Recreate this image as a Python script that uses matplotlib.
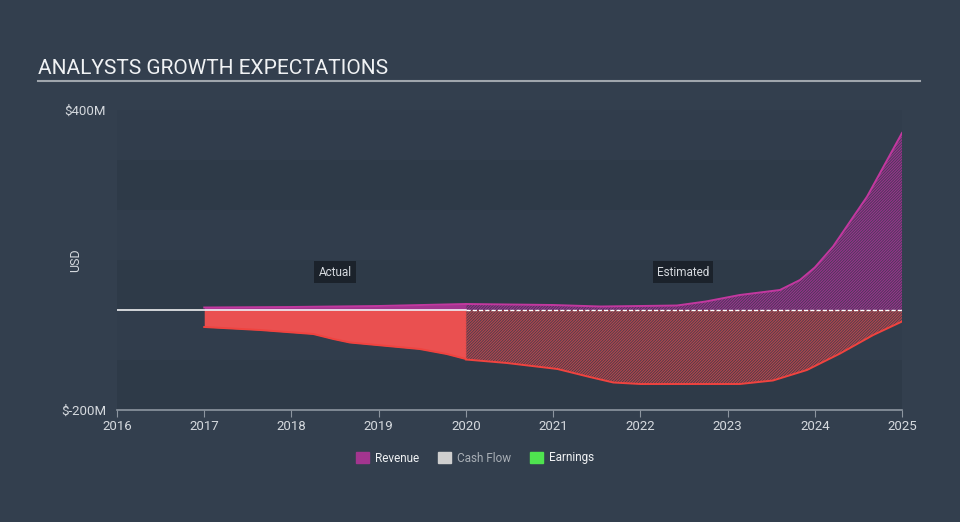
import matplotlib

matplotlib.use("Agg")

import matplotlib.pyplot as plt
from matplotlib.lines import Line2D
from matplotlib.patches import Patch

plt.rcParams["font.family"] = ["Roboto", "DejaVu Sans"]
plt.rcParams["hatch.linewidth"] = 0.8

# values (USD millions)
rev_actual_years = [2017.0, 2018.0, 2019.0, 2019.5, 2020.0]
rev_actual = [5, 6, 8, 10, 12]
rev_est_years = [2020.0, 2020.5, 2021.0, 2021.54, 2022.0, 2022.42, 2022.75,
                 2023.14, 2023.6, 2023.83, 2024.0, 2024.21, 2024.6, 2025.0]
rev_est = [12, 11, 10, 7, 8, 9, 17, 30, 40, 60, 85, 127, 227, 354]

cf_actual_years = [2017.0, 2017.64, 2018.25, 2018.48, 2018.67, 2019.47, 2019.78, 2020.0]
cf_actual = [-34, -40, -48, -58, -65, -78, -88, -98]
cf_est_years = [2020.0, 2020.47, 2021.05, 2021.42, 2021.69, 2022.0, 2023.14,
                2023.52, 2023.91, 2024.29, 2024.67, 2025.0]
cf_est = [-99, -106, -118, -134, -145, -148, -148, -141, -120, -87, -50, -23]

year_ticks = list(range(2016, 2026))
y_ticks = [-200, 400]
y_tick_labels = ["$-200M", "$400M"]

BG = "#333f4e"
BAND = "#2e3a48"
REV_LINE = "#c2389f"
REV_FILL = "#a3358f"
CF_LINE = "#f0433f"
CF_FILL = "#ea5050"
TXT = "#d5d9de"

fig = plt.figure(figsize=(9.6, 5.22), dpi=100, facecolor=BG)
ax = fig.add_axes([117 / 960, 1 - 410 / 522, (902 - 117) / 960, 300 / 522])
ax.set_facecolor("#313d4c")
ax.set_xlim(2016, 2025.0)
ax.set_ylim(-200, 400)

# alternating horizontal bands
for lo in (-200, 0, 200):
    ax.axhspan(lo, lo + 100, color=BAND, lw=0, zorder=0)

# revenue
ax.fill_between(rev_actual_years, 0, rev_actual, color=REV_FILL, lw=0, zorder=2)
ax.plot(rev_actual_years, rev_actual, color=REV_LINE, lw=1.4, zorder=3)
ax.fill_between(rev_est_years, 0, rev_est, facecolor=(0.64, 0.21, 0.56, 0.2),
                edgecolor="#9a338c", hatch="/" * 12, lw=0, zorder=2)
ax.plot(rev_est_years, rev_est, color=REV_LINE, lw=1.4, zorder=3)

# cash flow
ax.fill_between(cf_actual_years, 0, cf_actual, color=CF_FILL, lw=0, zorder=2)
ax.plot(cf_actual_years, cf_actual, color=CF_LINE, lw=1.4, zorder=3)
ax.fill_between(cf_est_years, 0, cf_est, facecolor=(0.92, 0.31, 0.31, 0.12),
                edgecolor="#b8454c", hatch="/" * 12, lw=0, zorder=2)
ax.plot(cf_est_years, cf_est, color=CF_LINE, lw=1.4, zorder=3)

# zero line: solid for actuals, dashed for estimates
ax.plot([2016, 2020], [0, 0], color="white", lw=1.1, zorder=4)
ax.plot([2020, 2025], [0, 0], color="white", lw=1.0, ls=(0, (3, 1.5)), zorder=4)

box = dict(boxstyle="square,pad=0.35", facecolor="#1b222b", edgecolor="none")
ax.text(2018.5, 76, "Actual", color=TXT, fontsize=8.5, ha="center", va="center", bbox=box, zorder=5)
ax.text(2022.49, 76, "Estimated", color=TXT, fontsize=8.5, ha="center", va="center", bbox=box, zorder=5)

for side in ("top", "right", "left"):
    ax.spines[side].set_visible(False)
ax.spines["bottom"].set_color("#8d96a0")
ax.spines["bottom"].set_linewidth(1.2)
ax.set_xticks(year_ticks)
ax.set_xticklabels([str(y) for y in year_ticks])
ax.set_yticks(y_ticks)
ax.set_yticklabels(y_tick_labels)
ax.tick_params(axis="x", colors="#8d96a0", labelcolor=TXT, labelsize=9.5, length=5, pad=2)
ax.tick_params(axis="y", length=0, labelcolor=TXT, labelsize=9.5, pad=8)
ax.set_ylabel("USD", color=TXT, fontsize=9)
ax.yaxis.set_label_coords((82 - 117) / 785, 0.5)

# title + rule
fig.text(38 / 960, 1 - 69 / 522, "ANALYSTS GROWTH EXPECTATIONS", color="#f0f2f4",
         fontsize=15.0, ha="left", va="center")
fig.add_artist(Line2D([38 / 960, 920 / 960], [1 - 81 / 522, 1 - 81 / 522],
                      color="#a0a6ad", lw=1.5, transform=fig.transFigure))

handles = [Patch(color="#a3358f"), Patch(color="#cfcfcf"), Patch(color="#4fe34f")]
leg = fig.legend(handles, ["Revenue", "Cash Flow", "Earnings"], loc="center",
                 bbox_to_anchor=(475 / 960, 1 - 458 / 522), ncol=3, frameon=False,
                 fontsize=8.5, handlelength=1.1, handleheight=1.1, handletextpad=0.5,
                 columnspacing=1.6)
for t, c in zip(leg.get_texts(), ["#f0f2f4", "#a9afb6", "#f0f2f4"]):
    t.set_color(c)

fig.savefig("out.png", dpi=100, facecolor=BG)
